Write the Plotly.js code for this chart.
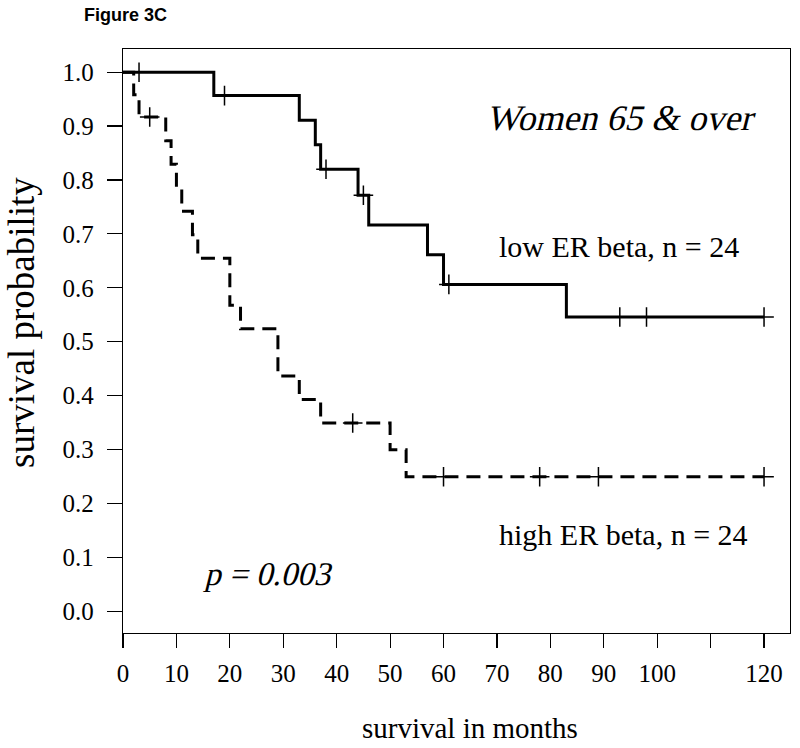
<!DOCTYPE html>
<html><head><meta charset="utf-8">
<script src="https://cdn.plot.ly/plotly-3.0.1.min.js"></script>
<style>html,body{margin:0;padding:0;background:#fff;}#chart{width:800px;height:748px;}</style>
</head><body><div id="chart"></div>
<script>
// Low ER beta (solid) Kaplan-Meier steps
const lowTimes = [0, 17, 33, 36, 37, 44, 46, 57, 60, 83, 120];
const lowSurv  = [1.0, 0.9565, 0.9110, 0.8654, 0.8199, 0.7716, 0.7165, 0.6614, 0.6063, 0.5457, 0.5457];
const lowCensor = [3, 19, 38, 45, 61, 93, 98, 120];
// High ER beta (dashed) Kaplan-Meier steps
const highTimes = [0, 2, 3, 8, 9, 10, 11, 13, 14, 20, 22, 29, 33, 37, 50, 53, 120];
const highSurv  = [1.0, 0.9583, 0.9167, 0.8730, 0.8294, 0.7857, 0.7421, 0.6984, 0.6548, 0.5675, 0.5238, 0.4365, 0.3929, 0.3492, 0.2993, 0.2494, 0.2494];
const highCensor = [5, 43, 60, 78, 89, 120];
// Axis ticks
const xTickVals = [0, 10, 20, 30, 40, 50, 60, 70, 80, 90, 100, 110, 120];
const xTickText = ['0', '10', '20', '30', '40', '50', '60', '70', '80', '90', '100', '', '120'];
const yTickVals = [0, 0.1, 0.2, 0.3, 0.4, 0.5, 0.6, 0.7, 0.8, 0.9, 1.0];
const yTickText = ['0.0', '0.1', '0.2', '0.3', '0.4', '0.5', '0.6', '0.7', '0.8', '0.9', '1.0'];

function survAt(times, surv, t) {
  let v = surv[0];
  for (let i = 0; i < times.length; i++) { if (times[i] <= t) v = surv[i]; }
  return v;
}

const serif = 'Liberation Serif, Times New Roman, serif';
const censorMarker = {symbol: 'cross-thin-open', size: 14, color: '#000', line: {width: 1.5, color: '#000'}};

const traces = [
  {x: lowTimes, y: lowSurv, mode: 'lines', line: {shape: 'hv', color: '#000', width: 3}, hoverinfo: 'skip', cliponaxis: false},
  {x: highTimes, y: highSurv, mode: 'lines', line: {shape: 'hv', color: '#000', width: 3, dash: '14px,8px'}, hoverinfo: 'skip', cliponaxis: false},
  {x: lowCensor, y: lowCensor.map(t => survAt(lowTimes, lowSurv, t)), mode: 'markers', marker: censorMarker, cliponaxis: false},
  {x: highCensor, y: highCensor.map(t => survAt(highTimes, highSurv, t)), mode: 'markers', marker: censorMarker, cliponaxis: false}
];

const layout = {
  width: 800, height: 748,
  margin: {l: 123, r: 10, t: 49, b: 115, pad: 0},
  paper_bgcolor: '#fff', plot_bgcolor: '#fff',
  showlegend: false,
  xaxis: {
    range: [0, 124.86], tickmode: 'array', tickvals: xTickVals, ticktext: xTickText,
    ticks: 'outside', ticklen: 14, tickwidth: 1.2, tickcolor: '#000',
    showline: true, linecolor: '#000', linewidth: 1.3, mirror: true,
    showgrid: false, zeroline: false, ticklabelstandoff: 4,
    tickfont: {family: serif, size: 25, color: '#000'}
  },
  yaxis: {
    range: [-0.0405, 1.043], tickmode: 'array', tickvals: yTickVals, ticktext: yTickText,
    ticks: 'outside', ticklen: 15, tickwidth: 1.2, tickcolor: '#000',
    showline: true, linecolor: '#000', linewidth: 1.3, mirror: true,
    showgrid: false, zeroline: false, ticklabelstandoff: 8,
    tickfont: {family: serif, size: 25, color: '#000'}
  },
  annotations: [
    {text: 'Figure 3C', xref: 'paper', yref: 'paper', x: 0.003, y: 1.059, xanchor: 'center', yanchor: 'middle', showarrow: false,
     font: {family: 'Liberation Sans, Arial, sans-serif', size: 18, weight: 'bold', color: '#000'}},
    {text: 'Women 65 & over', name: 'oblique', xref: 'paper', yref: 'paper', x: 0.748, y: 0.882, xanchor: 'center', yanchor: 'middle', showarrow: false,
     font: {family: serif, size: 36, color: '#000'}},
    {text: 'low ER beta, n = 24', xref: 'paper', yref: 'paper', x: 0.744, y: 0.6615, xanchor: 'center', yanchor: 'middle', showarrow: false,
     font: {family: serif, size: 30, color: '#000'}},
    {text: 'high ER beta, n = 24', xref: 'paper', yref: 'paper', x: 0.751, y: 0.1695, xanchor: 'center', yanchor: 'middle', showarrow: false,
     font: {family: serif, size: 30, color: '#000'}},
    {text: 'p = 0.003', name: 'oblique', xref: 'paper', yref: 'paper', x: 0.2204, y: 0.101, xanchor: 'center', yanchor: 'middle', showarrow: false,
     font: {family: serif, size: 33, color: '#000'}},
    {text: 'survival in months', xref: 'paper', yref: 'paper', x: 0.52, y: -0.1627, xanchor: 'center', yanchor: 'middle', showarrow: false,
     font: {family: serif, size: 29, color: '#000'}},
    {text: 'survival probability', xref: 'paper', yref: 'paper', x: -0.153, y: 0.5325, xanchor: 'center', yanchor: 'middle', showarrow: false, textangle: -90,
     font: {family: serif, size: 37, color: '#000'}}
  ]
};

Plotly.newPlot('chart', traces, layout, {displayModeBar: false, staticPlot: true}).then(function (gd) {
  // The serif italic face is not installed, so slant the serif text to imitate Times Italic.
  const obliqueTexts = ['Women 65 & over', 'p = 0.003'];
  gd.querySelectorAll('text.annotation-text').forEach(function (t) {
    if (obliqueTexts.indexOf(t.textContent) >= 0) {
      const b = t.getBBox();
      const cx = b.x + b.width / 2, cy = b.y + b.height / 2;
      t.setAttribute('transform', 'translate(' + cx + ',' + cy + ') skewX(-14) translate(' + (-cx) + ',' + (-cy) + ')');
    }
  });
});
</script>
</body></html>
